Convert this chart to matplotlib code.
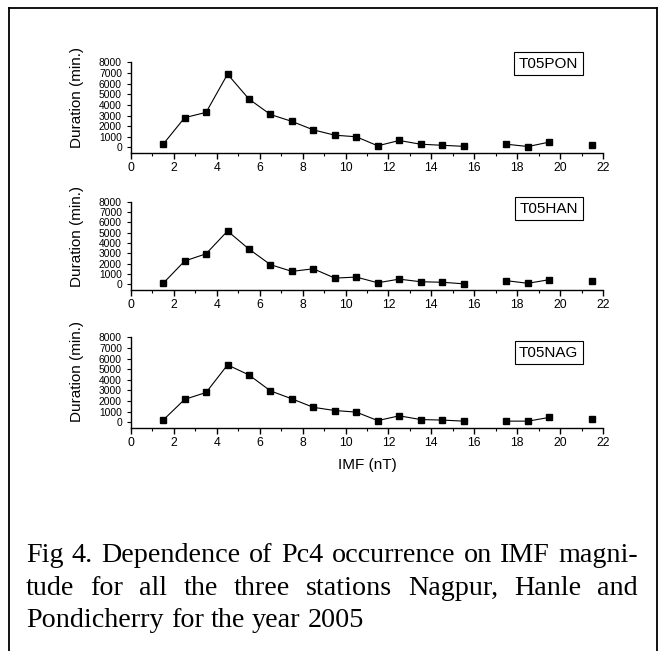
import numpy as np
import matplotlib
matplotlib.use("Agg")
import matplotlib.pyplot as plt
from matplotlib.lines import Line2D
from matplotlib.ticker import MultipleLocator

plt.rcParams['font.family'] = ['Liberation Sans', 'DejaVu Sans']

# ---- data ----
imf = [1.5, 2.5, 3.5, 4.5, 5.5, 6.5, 7.5, 8.5, 9.5, 10.5, 11.5, 12.5, 13.5,
       14.5, 15.5, 16.5, 17.5, 18.5, 19.5, 20.5, 21.5]
nan = np.nan
pon = [300, 2800, 3300, 6900, 4550, 3100, 2450, 1650, 1150, 1000, 150, 650,
       300, 200, 100, nan, 300, 80, 500, nan, 250]
han = [100, 2250, 2950, 5150, 3400, 1900, 1250, 1500, 600, 700, 150, 500,
       250, 200, 50, nan, 350, 100, 450, nan, 300]
nag = [200, 2150, 2800, 5400, 4450, 2950, 2200, 1400, 1100, 950, 150, 600,
       250, 200, 100, nan, 100, 100, 450, nan, 300]
station_labels = ["T05PON", "T05HAN", "T05NAG"]
series = [pon, han, nag]
xticks = list(range(0, 23, 2))
yticks = list(range(0, 8001, 1000))
caption_lines = ["Fig 4. Dependence of Pc4 occurrence on IMF magni-",
                 "tude for all the three stations Nagpur, Hanle and",
                 "Pondicherry for the year 2005"]

W, H = 665, 651
fig = plt.figure(figsize=(W / 100, H / 100), dpi=100)

# axes geometry in pixels: (top, bottom)
panels_px = [(62.5, 152.7), (201.5, 289.5), (337.3, 427.5)]
left_px, right_px = 131, 603
label_pos = [(0.885, 0.985), (0.885, 0.92), (0.885, 0.83)]
ylabel_y = [0.61, 0.60, 0.62]

for i, ((top, bot), data, lab) in enumerate(zip(panels_px, series, station_labels)):
    ax = fig.add_axes([left_px / W, 1 - bot / H, (right_px - left_px) / W, (bot - top) / H])
    ax.plot(imf, data, color='black', lw=0.8, marker='s', ms=5,
            mfc='black', mec='black')
    ax.set_xlim(0, 22)
    ax.set_ylim(-500, 8000)
    ax.spines['top'].set_visible(False)
    ax.spines['right'].set_visible(False)
    for s in ('left', 'bottom'):
        ax.spines[s].set_linewidth(1.0)
    ax.set_xticks(xticks)
    ax.xaxis.set_minor_locator(MultipleLocator(1))
    ax.set_yticks(yticks)
    ax.tick_params(axis='x', which='major', direction='out', length=4.5, width=1.0,
                   labelsize=8.8, pad=2.5)
    ax.tick_params(axis='x', which='minor', direction='out', length=2.5, width=0.8)
    ax.tick_params(axis='y', which='major', direction='out', length=3, width=0.8,
                   labelsize=7.4, pad=3.5)
    ax.set_ylabel("Duration (min.)", fontsize=11)
    ax.yaxis.set_label_coords(-0.100, ylabel_y[i])
    ax.text(label_pos[i][0], label_pos[i][1], lab, transform=ax.transAxes,
            ha='center', va='center', fontsize=11,
            bbox=dict(boxstyle='square,pad=0.3', fc='white', ec='black', lw=0.8))
    if i == 2:
        ax.set_xlabel("IMF (nT)", fontsize=11, labelpad=6)

# outer frame
frame_kw = dict(color='black', lw=1.3, transform=None)
x0, x1, y0 = 8.5, 657, H - 7.5
fig.add_artist(Line2D([x0, x0], [-5, y0], **frame_kw))
fig.add_artist(Line2D([x1, x1], [-5, y0], **frame_kw))
fig.add_artist(Line2D([x0, x1], [y0, y0], **frame_kw))

# caption, justified
fig.canvas.draw()
renderer = fig.canvas.get_renderer()
serif = ['Liberation Serif', 'DejaVu Serif']
probe = fig.text(0, 0, caption_lines[0], fontsize=10, family=serif)
wprobe = probe.get_window_extent(renderer).width
probe.remove()
fs = 10 * 600 / wprobe
cap_left, cap_right = 26, 638
baselines = [562, 595, 627]
sp = fig.text(0, 0, "a b", fontsize=fs, family=serif)
sa = fig.text(0, 0, "ab", fontsize=fs, family=serif)
space_w = sp.get_window_extent(renderer).width - sa.get_window_extent(renderer).width
sp.remove(); sa.remove()
for li, (line, base) in enumerate(zip(caption_lines, baselines)):
    words = line.split(" ")
    ts = [fig.text(0, 1 - base / H, w, fontsize=fs, family=serif, va='baseline', ha='left')
          for w in words]
    widths = [t.get_window_extent(renderer).width for t in ts]
    if li < 2:
        gap = (cap_right - cap_left - sum(widths)) / (len(words) - 1)
    else:
        gap = space_w
    x = cap_left
    for t, w in zip(ts, widths):
        t.set_x(x / W)
        x += w + gap

fig.savefig("out.png", dpi=100)
